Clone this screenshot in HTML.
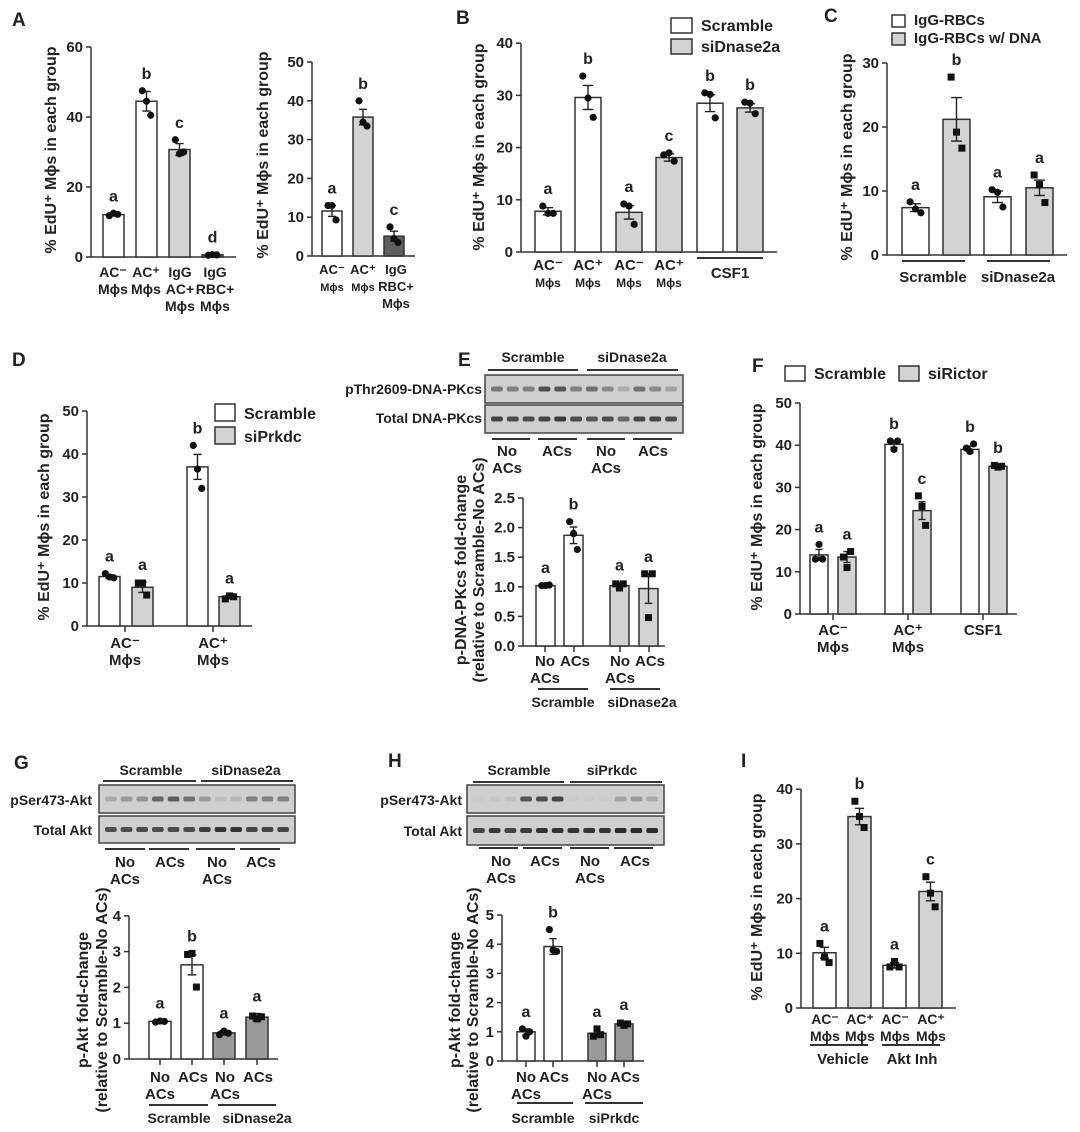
<!DOCTYPE html>
<html><head><meta charset="utf-8"><style>
html,body{margin:0;padding:0;background:#fff;}
svg{display:block;font-family:"Liberation Sans",Arial,sans-serif;font-weight:bold;}
</style></head>
<body>
<svg id="fig" width="1080" height="1132" viewBox="0 0 1080 1132" xmlns="http://www.w3.org/2000/svg"></svg>
<script>
// ---------- data ----------
const A1_vals=[12.1,44.5,30.7,0.6];
const A1_err=[0.3,2.8,1.7,0.15];
const A1_pts=[[11.8,12.5,12.2],[47.5,44.5,40.5],[33.5,29.5,30],[0.5,0.7,0.6]];
const A1_letters=['a','b','c','d'];
const A2_vals=[11.6,35.8,5.1];
const A2_err=[1.4,2.0,1.3];
const A2_pts=[[13,13,9.3],[40,34.5,33.5],[7.5,4.5,3.5]];
const A2_letters=['a','b','c'];
const B_vals=[7.8,29.6,7.6,18.1,28.5,27.6];
const B_err=[0.7,2.3,1.3,0.7,1.6,0.8];
const B_pts=[[8.8,7.4,7.4],[33.7,29.5,25.8],[9.2,8.8,5.3],[18.6,19,17.4],[30.5,30.2,25.7],[28.7,28.5,26.5]];
const B_letters=['a','b','a','c','b','b'];
const C_vals=[7.4,21.2,9.1,10.5];
const C_err=[0.6,3.4,0.9,1.2];
const C_pts=[[8.3,7.2,6.6],[27.8,19.2,16.7],[10.2,9.8,7.5],[12.5,11,8.2]];
const C_letters=['a','b','a','a'];
const D_vals=[11.5,9,37,6.8];
const D_err=[0.4,1.2,2.9,0.3];
const D_pts=[[12.2,11.4,11.2],[10,10,7.2],[42,36.5,32],[6.3,7,6.8]];
const D_letters=['a','a','b','a'];
const E_vals=[1.02,1.87,1.02,0.97];
const E_err=[0.01,0.14,0.05,0.25];
const E_pts=[[1.02,1.02,1.03],[2.1,1.9,1.63],[1.05,0.98,1.05],[1.22,0.48,1.22]];
const E_letters=['a','b','a','a'];
const F_vals=[14,13.5,40.2,24.5,39,35];
const F_err=[1.3,1.3,0.7,2.1,0.8,0.3];
const F_pts=[[13,16.5,13],[13.5,11,14.8],[41,39,41],[28,25.5,21],[39.3,38.5,40.3],[35.2,34.8,35]];
const F_letters=['a','a','b','c','b','b'];
const G_vals=[1.05,2.63,0.73,1.17];
const G_err=[0.02,0.28,0.06,0.1];
const G_pts=[[1.03,1.06,1.05],[2.92,2.95,2.01],[0.68,0.78,0.72],[1.2,1.12,1.18]];
const G_letters=['a','b','a','a'];
const H_vals=[1.0,3.92,0.95,1.27];
const H_err=[0.1,0.27,0.1,0.06];
const H_pts=[[1.1,0.85,1.0],[4.5,3.8,3.75],[0.85,1.1,0.9],[1.3,1.22,1.27]];
const H_letters=['a','b','a','a'];
const I_vals=[10.1,35,7.8,21.3];
const I_err=[1.0,1.5,0.5,1.7];
const I_pts=[[11.8,9.3,8.3],[37.8,35,33],[7.5,8.5,7.5],[24,21,18.5]];
const I_letters=['a','b','a','c'];
// blot band intensities (0-1) per lane
const E_top=[0.5,0.45,0.45,0.75,0.7,0.45,0.55,0.4,0.2,0.55,0.4,0.25];
const E_tot=[0.8,0.75,0.75,0.8,0.85,0.75,0.7,0.75,0.6,0.8,0.8,0.75];
const G_top=[0.2,0.3,0.35,0.6,0.65,0.55,0.3,0.1,0.15,0.45,0.45,0.45];
const G_tot=[0.75,0.75,0.75,0.75,0.75,0.75,0.85,0.9,0.9,0.8,0.8,0.8];
const H_top=[0.02,0.05,0.08,0.7,0.75,0.8,0.02,0.02,0.02,0.25,0.3,0.2];
const H_tot=[0.8,0.85,0.8,0.85,0.9,0.9,0.9,0.9,0.9,0.95,0.95,0.95];

const NS='http://www.w3.org/2000/svg';
const svg=document.getElementById('fig');
const INK='#222';
function mk(tag,attrs,parent){const e=document.createElementNS(NS,tag);for(const k in attrs)e.setAttribute(k,attrs[k]);(parent||svg).appendChild(e);return e;}
function txt(x,y,s,size,anchor,parent){const t=mk('text',{x:x,y:y,'font-size':size||14,'text-anchor':anchor||'middle',fill:INK},parent);t.textContent=s;return t;}

function panelLetter(x,y,s){
  const t=txt(x,y,s,19,'start');
  
  
}
function yTitle(x,cy,s,size){
  const t=txt(x,cy,s,size||16,'middle');
  t.setAttribute('transform','rotate(-90 '+x+' '+cy+')');
  
  
}

function drawPanel(id,p,vals,errs,pts,letters){
  const g=mk('g',{});
  
  
  const py=v=>p.y0-v*p.ppu;
  const ax=mk('line',{x1:p.ax,y1:p.y0,x2:p.ax,y2:py(p.ymax),stroke:'#333','stroke-width':1.5},g);
  
  
  for(let v=0;v<=p.ymax+1e-9;v+=p.step){
    mk('line',{x1:p.ax-5,y1:py(v),x2:p.ax,y2:py(v),stroke:'#333','stroke-width':1.5},g);
    const t=txt(p.ax-8,py(v)+5,p.dec?v.toFixed(1):String(Math.round(v)),15,'end',g);
    
    
  }
  const xa=mk('line',{x1:p.ax,y1:p.y0,x2:p.xend,y2:p.y0,stroke:'#333','stroke-width':1.5},g);
  
  
  (p.xticks||[]).forEach(x=>mk('line',{x1:x,y1:p.y0,x2:x,y2:p.y0+6,stroke:'#333','stroke-width':1.5},g));
  vals.forEach((v,i)=>{
    const x=p.bx[i],w=p.bw,cx=x+w/2;
    const r=mk('rect',{x:x,y:py(v),width:w,height:p.y0-py(v),fill:p.fills[i],stroke:'#333','stroke-width':1.5},g);
    
    
    const e=errs[i];
    mk('line',{x1:cx,y1:py(v-e),x2:cx,y2:py(v+e),stroke:'#222','stroke-width':1.4},g);
    mk('line',{x1:cx-w*0.2,y1:py(v+e),x2:cx+w*0.2,y2:py(v+e),stroke:'#222','stroke-width':1.4},g);
    mk('line',{x1:cx-w*0.2,y1:py(v-e),x2:cx+w*0.2,y2:py(v-e),stroke:'#222','stroke-width':1.4},g);
    const offs=[-w*0.2,0,w*0.2];
    let top=v+e;
    pts[i].forEach((pv,j)=>{
      top=Math.max(top,pv);
      const px=cx+offs[j],yy=py(pv);
      let m;
      if((p.marks&&p.marks[i])==='s') m=mk('rect',{x:px-3.5,y:yy-3.5,width:7,height:7,fill:'#111'},g);
      else m=mk('circle',{cx:px,cy:yy,r:3.6,fill:'#111'},g);
      
      
    });
    const L=txt(cx,py(top)-12,letters[i],16,'middle',g);
    
    
  });
}
function lbl(x,y,lines,sizes,name){
  lines.forEach((s,k)=>{
    const t=txt(x,y+k*17,s,(sizes&&sizes[k])||14,'middle');
    
    
  });
}
function hline(x1,x2,y){
  const l=mk('line',{x1:x1,y1:y,x2:x2,y2:y,stroke:'#333','stroke-width':2});
  
  
}
function legend(x,y,fill,s,size,bw,bh){
  const r=mk('rect',{x:x,y:y,width:bw||20,height:bh||16,fill:fill,stroke:'#333','stroke-width':1.5});
  
  
  const t=txt(x+(bw||20)+9,y+(bh||16)-2,s,size||16,'start');
  
  
}
function blot(x,y,w,h,vals,name){
  const r=mk('rect',{x:x,y:y,width:w,height:h,fill:'#cfcfcf',stroke:'#444','stroke-width':1.5});
  
  
  const lw=(w-8)/vals.length;
  vals.forEach((v,i)=>{
    const b=mk('rect',{x:x+4+i*lw+2,y:y+h/2-2.5,width:lw-4,height:5,rx:2,fill:'#222','fill-opacity':v});
    
    
  });
}
const W='#fff',LG='#d3d3d3',DG='#5f5f5f',MG='#9a9a9a';
const MPS='M\u03d5s', ACm='AC\u207b', ACp='AC\u207a', YT='% EdU\u207a M\u03d5s in each group';

// ---- A ----
panelLetter(12,26,'A');
drawPanel('a1',{ax:91,y0:257,ppu:3.5,ymax:60,step:20,bx:[103,136,169,202],bw:21,fills:[W,W,LG,DG],xend:236},A1_vals,A1_err,A1_pts,A1_letters);
yTitle(56,150,YT);
lbl(113,277,[ACm,MPS]);lbl(146,277,[ACp,MPS]);lbl(180,277,['IgG','AC+',MPS]);lbl(215,277,['IgG','RBC+',MPS]);
drawPanel('a2',{ax:312,y0:256,ppu:3.88,ymax:50,step:10,bx:[322,353,384],bw:20,fills:[W,LG,DG],xend:415},A2_vals,A2_err,A2_pts,A2_letters);
yTitle(268,155,YT);
lbl(332,274,[ACm,MPS],[13,11]);lbl(363,274,[ACp,MPS],[13,11]);lbl(396,274,['IgG','RBC+',MPS],[13,13,13]);

// ---- B ----
panelLetter(456,24,'B');
drawPanel('b',{ax:521,y0:252,ppu:5.22,ymax:40,step:10,bx:[535,575,616,656,697,737],bw:26,fills:[W,W,LG,LG,W,LG],xend:777},B_vals,B_err,B_pts,B_letters);
yTitle(484,147,YT);
[548,588,629,669].forEach((x,i)=>lbl(x,270,[i%2?ACp:ACm,MPS],[15,12]));
hline(697,763,258);lbl(730,278,['CSF1'],[15]);
legend(671,18,W,'Scramble',16,21,15);legend(671,39,LG,'siDnase2a',16,21,15);

// ---- C ----
panelLetter(824,22,'C');
drawPanel('c',{ax:887,y0:255,ppu:6.4,ymax:30,step:10,bx:[902,943,984,1026],bw:27,fills:[W,LG,W,LG],xend:1067,marks:['c','s','c','s']},C_vals,C_err,C_pts,C_letters);
yTitle(852,157,YT);
hline(902,965,261);hline(987,1050,261);lbl(933,282,['Scramble'],[15]);lbl(1018,282,['siDnase2a'],[15]);
legend(892,15,W,'IgG-RBCs',15,13,12);legend(892,33,LG,'IgG-RBCs w/ DNA',15,13,12);

// ---- D ----
panelLetter(12,366,'D');
drawPanel('d',{ax:87,y0:626,ppu:4.3,ymax:50,step:10,bx:[99,132,187,219],bw:21,fills:[W,LG,W,LG],xend:252,xticks:[125,213],marks:['c','s','c','s']},D_vals,D_err,D_pts,D_letters);
yTitle(49,517,YT);
lbl(125,648,[ACm,MPS],[15,15]);lbl(213,648,[ACp,MPS],[15,15]);
legend(215,404,W,'Scramble',16,20,17);legend(215,427,LG,'siPrkdc',16,20,17);

// ---- E ----
panelLetter(458,366,'E');
lbl(533,362,['Scramble'],[14],'blot-group-label');lbl(632,362,['siDnase2a'],[14],'blot-group-label');
hline(488,578,370);hline(587,678,370);
blot(485,375,198,28,E_top,'blot-pthr2609-dna-pkcs');blot(485,405,198,28,E_tot,'blot-total-dna-pkcs');
txt(482,394,'pThr2609-DNA-PKcs',14,'end');txt(482,423,'Total DNA-PKcs',14,'end');
hline(492,530,439);hline(538,577,439);hline(587,625,439);hline(633,672,439);
lbl(507,456,['No','ACs'],[15,15]);lbl(557,456,['ACs'],[15]);lbl(606,456,['No','ACs'],[15,15]);lbl(653,456,['ACs'],[15]);
drawPanel('e',{ax:523,y0:646,ppu:59.2,ymax:2.5,step:0.5,dec:true,bx:[536,564,610,639],bw:19,fills:[W,W,LG,LG],xend:665,xticks:[545,574,620,649],marks:['c','c','s','s']},E_vals,E_err,E_pts,E_letters);
yTitle(466,570,'p-DNA-PKcs fold-change',16);yTitle(484,570,'(relative to Scramble-No ACs)',16);
lbl(545,666,['No','ACs'],[15,15]);lbl(575,666,['ACs'],[15]);lbl(620,666,['No','ACs'],[15,15]);lbl(650,666,['ACs'],[15]);
hline(538,588,689);hline(610,660,689);lbl(563,707,['Scramble']);lbl(642,707,['siDnase2a']);

// ---- F ----
panelLetter(752,372,'F');
legend(785,366,W,'Scramble',16,20,15);legend(899,366,LG,'siRictor',16,20,15);
drawPanel('f',{ax:800,y0:614,ppu:4.22,ymax:50,step:10,bx:[810,838,885,913,961,989],bw:18,fills:[W,LG,W,LG,W,LG],xend:1017,xticks:[833,908,983],marks:['c','s','c','s','c','s']},F_vals,F_err,F_pts,F_letters);
yTitle(762,507,YT);
lbl(833,635,[ACm,MPS],[15,15]);lbl(908,635,[ACp,MPS],[15,15]);lbl(983,635,['CSF1'],[15]);

// ---- G ----
panelLetter(14,769,'G');
lbl(151,775,['Scramble'],[14],'blot-group-label');lbl(246,775,['siDnase2a'],[14],'blot-group-label');
hline(103,196,781);hline(201,293,781);
blot(99,785,196,28,G_top,'blot-pser473-akt');blot(99,816,196,27,G_tot,'blot-total-akt');
txt(92,805,'pSer473-Akt',14,'end');txt(92,835,'Total Akt',14,'end');
hline(105,145,849);hline(149,189,849);hline(196,235,849);hline(240,280,849);
lbl(125,867,['No','ACs'],[15,15]);lbl(170,867,['ACs'],[15]);lbl(217,867,['No','ACs'],[15,15]);lbl(261,867,['ACs'],[15]);
drawPanel('g',{ax:129,y0:1059,ppu:35.8,ymax:4,step:1,bx:[149,181,213,246],bw:22,fills:[W,W,MG,MG],xend:278,xticks:[160,192,224,257],marks:['c','s','c','s']},G_vals,G_err,G_pts,G_letters);
yTitle(88,1000,'p-Akt fold-change',16);yTitle(107,1000,'(relative to Scramble-No ACs)',16);
lbl(160,1082,['No','ACs'],[15,15]);lbl(193,1082,['ACs'],[15]);lbl(225,1082,['No','ACs'],[15,15]);lbl(258,1082,['ACs'],[15]);
hline(149,208,1105);hline(218,276,1105);lbl(179,1123,['Scramble']);lbl(257,1123,['siDnase2a']);

// ---- H ----
panelLetter(388,767,'H');
lbl(519,775,['Scramble'],[14],'blot-group-label');lbl(612,775,['siPrkdc'],[14],'blot-group-label');
hline(473,564,782);hline(570,662,782);
blot(467,785,197,28,H_top,'blot-pser473-akt-h');blot(467,816,197,29,H_tot,'blot-total-akt-h');
txt(462,805,'pSer473-Akt',14,'end');txt(462,836,'Total Akt',14,'end');
hline(479,518,848);hline(523,562,848);hline(570,609,848);hline(614,653,848);
lbl(501,866,['No','ACs'],[15,15]);lbl(545,866,['ACs'],[15]);lbl(590,866,['No','ACs'],[15,15]);lbl(635,866,['ACs'],[15]);
drawPanel('h',{ax:502,y0:1061,ppu:29.2,ymax:5,step:1,bx:[517,544,588,615],bw:18,fills:[W,W,MG,MG],xend:644,xticks:[526,553,597,624],marks:['c','c','s','s']},H_vals,H_err,H_pts,H_letters);
yTitle(460,1000,'p-Akt fold-change',16);yTitle(478,1000,'(relative to Scramble-No ACs)',16);
lbl(526,1082,['No','ACs'],[15,15]);lbl(554,1082,['ACs'],[15]);lbl(597,1082,['No','ACs'],[15,15]);lbl(625,1082,['ACs'],[15]);
hline(517,573,1103);hline(585,643,1103);lbl(543,1123,['Scramble']);lbl(614,1123,['siPrkdc']);

// ---- I ----
panelLetter(741,767,'I');
drawPanel('i',{ax:801,y0:1008,ppu:5.47,ymax:40,step:10,bx:[813,848,883,919],bw:23,fills:[W,LG,W,LG],xend:956,marks:['s','s','s','s']},I_vals,I_err,I_pts,I_letters);
yTitle(762,897,YT);
[825,860,895,931].forEach((x,i)=>lbl(x,1024,[i%2?ACp:ACm,MPS],[14,14]));
hline(810,868,1045);hline(882,940,1045);lbl(843,1064,['Vehicle'],[15]);lbl(912,1064,['Akt Inh'],[15]);
</script>
</body></html>
